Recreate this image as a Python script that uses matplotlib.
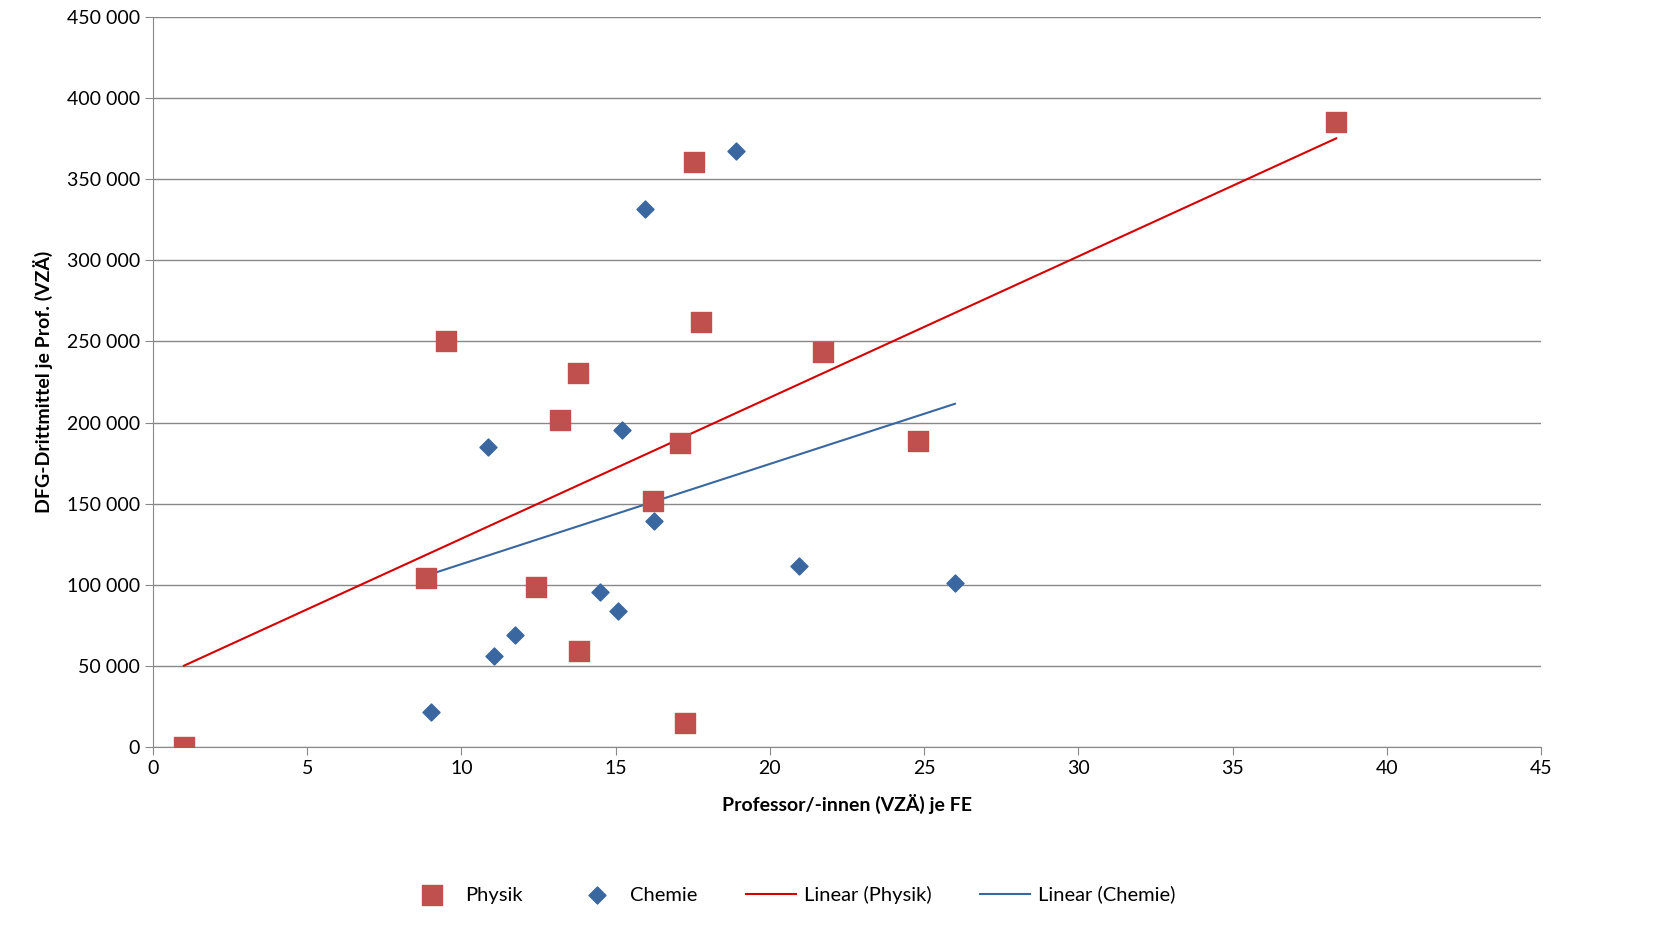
import matplotlib
matplotlib.use("Agg")
import matplotlib.pyplot as plt
import numpy as np
from matplotlib.ticker import FuncFormatter

plt.rcParams['font.family'] = ['Lato', 'DejaVu Sans']

physik_x = [1.0, 9.5, 13.78, 13.2, 17.54, 17.77, 21.72, 17.09, 24.8, 16.21, 8.85, 12.42, 13.81, 17.25, 38.36]
physik_y = [0, 250000, 230500, 201600, 360600, 262000, 243500, 187400, 188600, 151600, 104200, 98600, 59200, 14800, 385300]
chemie_x = [18.9, 15.95, 10.86, 15.21, 16.25, 20.95, 26.0, 14.49, 15.08, 11.74, 11.06, 9.01]
chemie_y = [367400, 331600, 184900, 195400, 139300, 111600, 101100, 95500, 83800, 69000, 56100, 21600]

red = '#c0504d'
blue = '#3a67a0'

fig = plt.figure(figsize=(16.57, 9.52), dpi=100)
ax = fig.add_axes([153/1657, 1-747/952, (1541-153)/1657, (747-17)/952])

ax.scatter(physik_x, physik_y, marker='s', s=190, color=red, label='Physik', zorder=3)
ax.scatter(chemie_x, chemie_y, marker='D', s=75, color=blue, label='Chemie', zorder=3)

for xs, ys, c, lab in [(physik_x, physik_y, '#d40000', 'Linear (Physik)'),
                       (chemie_x, chemie_y, blue, 'Linear (Chemie)')]:
    m, b = np.polyfit(xs, ys, 1)
    xx = np.array([min(xs), max(xs)])
    ax.plot(xx, m * xx + b, color=c, lw=1.5, label=lab, zorder=2)

ax.set_xlim(0, 45)
ax.set_ylim(0, 450000)
ax.set_xticks(np.arange(0, 46, 5))
ax.set_yticks(np.arange(0, 450001, 50000))
ax.yaxis.set_major_formatter(FuncFormatter(lambda v, p: f"{int(v):,}".replace(',', ' ')))
ax.grid(axis='y', color='#888888', lw=1)
ax.set_axisbelow(True)
for s in ['top', 'right']:
    ax.spines[s].set_visible(False)
for s in ['left', 'bottom']:
    ax.spines[s].set_color('#888888')
ax.tick_params(labelsize=14, color='#888888', length=6)

ax.set_xlabel('Professor/-innen (VZÄ) je FE', fontsize=14, fontweight='bold', labelpad=12)
ax.set_ylabel('DFG-Drittmittel je Prof. (VZÄ)', fontsize=14, fontweight='bold', labelpad=10)

ax.legend(loc='upper center', bbox_to_anchor=(0.46, -0.165), ncol=4, frameon=False,
          fontsize=14.5, handlelength=2.5, handletextpad=0.4, columnspacing=2.4)

fig.savefig('out.png', dpi=100)
